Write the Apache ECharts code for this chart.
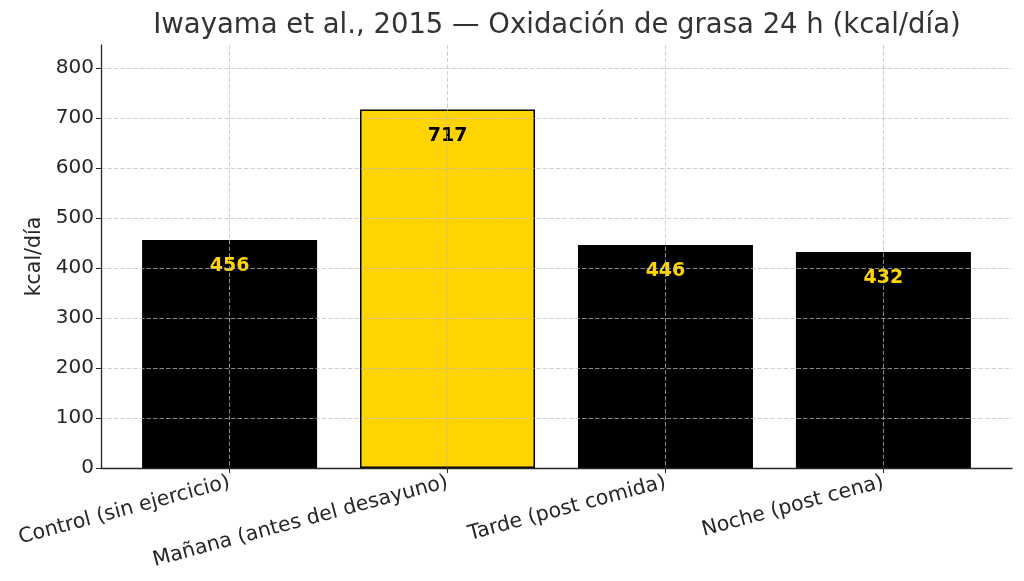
<!DOCTYPE html>
<html>
<head>
<meta charset="utf-8">
<script src="https://cdn.jsdelivr.net/npm/echarts@6/dist/echarts.min.js"></script>
<style>
  html, body { margin: 0; padding: 0; background: #fff; }
  #chart { width: 1024px; height: 581px; }
</style>
</head>
<body>
<div id="chart"></div>
<script>
// datos
const categories = ['Control (sin ejercicio)', 'Mañana (antes del desayuno)', 'Tarde (post comida)', 'Noche (post cena)'];
const fatOxidation = [456, 717, 446, 432];
const yTicks = [0, 100, 200, 300, 400, 500, 600, 700, 800];
const xTicks = [0, 1, 2, 3];
const highlighted = 'Mañana (antes del desayuno)';

const titleText = 'Iwayama et al., 2015 — Oxidación de grasa 24 h (kcal/día)';
const yName = 'kcal/día';

// colores
const colors = {
    bar: '#000000',
    highlight: '#FFD400',
    text: '#262626',
    grid: 'rgba(190,190,190,0.7)'
};
const font = 'DejaVu Sans';

const chart = echarts.init(document.getElementById('chart'));

// cada barra: posicion = indice de categoria
const barData = fatOxidation.map(function(v, i) {
    const isHi = categories[i] === highlighted;
    return {
        value: [i, v],
        itemStyle: {
            color: isHi ? colors.highlight : colors.bar,
            borderColor: '#000',
            borderWidth: isHi ? 1.5 : 0
        },
        label: { color: isHi ? '#000' : colors.highlight }
    };
});

// rejilla discontinua por encima de las barras (z alto en los ejes)
const gridStyle = { type: [4.5, 2], color: colors.grid, width: 1 };

const option = {
    animation: false,
    title: {
        text: titleText,
        left: 552,
        top: 7,
        textAlign: 'center',
        textStyle: { fontFamily: font, fontSize: 27.5, fontWeight: 'normal', color: '#333' }
    },
    grid: { left: 101, right: 12, top: 45, bottom: 113 },
    xAxis: {
        type: 'value',
        min: -0.59,
        max: 3.59,
        z: 5,
        axisLine: { show: true, onZero: false, lineStyle: { color: '#262626', width: 1.3 } },
        axisTick: { show: true, customValues: xTicks, length: 5, lineStyle: { color: '#262626' } },
        axisLabel: {
            customValues: xTicks,
            rotate: 15,
            margin: 14,
            fontFamily: font,
            fontSize: 20.5,
            color: colors.text,
            formatter: function(v) { return categories[Math.round(v)] || ''; }
        },
        splitLine: { show: true, showMinLine: true, showMaxLine: true, lineStyle: gridStyle }
    },
    yAxis: {
        type: 'value',
        min: 0,
        max: 846,
        interval: 100,
        z: 5,
        name: yName,
        nameLocation: 'middle',
        nameRotate: 90,
        nameGap: 31,
        nameTextStyle: { fontFamily: font, fontSize: 20.5, color: colors.text },
        axisLine: { show: true, onZero: false, lineStyle: { color: '#262626', width: 1.3 } },
        axisTick: { show: true, customValues: yTicks, length: 5, lineStyle: { color: '#262626' } },
        axisLabel: {
            customValues: yTicks,
            margin: 7,
            fontFamily: font,
            fontSize: 20,
            color: colors.text
        },
        splitLine: { show: true, showMinLine: false, showMaxLine: true, lineStyle: gridStyle }
    },
    series: [{
        type: 'bar',
        barWidth: 175,
        z: 2,
        data: barData,
        label: {
            show: true,
            position: 'insideTop',
            distance: 17,
            fontFamily: font,
            fontSize: 19,
            fontWeight: 'bold',
            formatter: function(p) { return p.value[1]; }
        }
    }]
};

chart.setOption(option);
</script>
</body>
</html>
